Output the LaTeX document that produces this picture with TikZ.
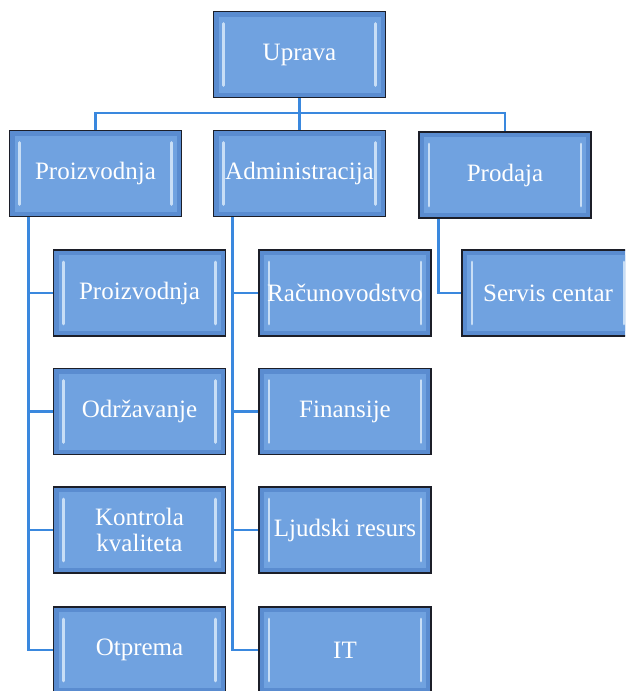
\documentclass[tikz,border=0pt]{standalone}
\usepackage{fontspec}
\setmainfont{Liberation Serif}
\definecolor{boxblue}{RGB}{112,162,224}
\definecolor{boxedge}{RGB}{90,140,208}
\definecolor{boxline}{RGB}{28,30,40}
\definecolor{connblue}{RGB}{58,136,222}
\definecolor{barlight}{RGB}{200,222,246}
\begin{document}
\begin{tikzpicture}[x=1pt,y=-1pt,
  orgbox/.style={draw=boxline, line width=1.6pt, fill=boxedge,
    minimum width=172pt, minimum height=86pt, inner sep=2pt,
    text=white, font=\fontsize{25}{26}\selectfont, align=center,
    path picture={
      \fill[boxblue] ([shift={(5pt,-5pt)}]path picture bounding box.north west)
        rectangle ([shift={(-5pt,5pt)}]path picture bounding box.south east);
      \draw[barlight, line width=2.8pt, line cap=round]
        ([shift={(10pt,-12pt)}]path picture bounding box.north west) --
        ([shift={(10pt,12pt)}]path picture bounding box.south west);
      \draw[barlight, line width=2.8pt, line cap=round]
        ([shift={(-10pt,-12pt)}]path picture bounding box.north east) --
        ([shift={(-10pt,12pt)}]path picture bounding box.south east);
    }},
  conn/.style={draw=connblue, line width=2.8pt}]
\useasboundingbox (0,0) rectangle (625,691);
\clip (0,0) rectangle (625,691);
\fill[white] (0,0) rectangle (625,691);

\node[orgbox] (up) at (299.5,54.5) {Uprava};
\node[orgbox] (pr) at (95.5,173.5) {Proizvodnja};
\node[orgbox] (ad) at (299.5,173.5) {Administracija};
\node[orgbox] (pd) at (505,175) {Prodaja};

\node[orgbox] (p1) at (139.5,293) {Proizvodnja};
\node[orgbox] (p2) at (139.5,411.5) {Održavanje};
\node[orgbox] (p3) at (139.5,530) {Kontrola\\kvaliteta};
\node[orgbox] (p4) at (139.5,650) {Otprema};

\node[orgbox] (a1) at (345,293) {Računovodstvo};
\node[orgbox] (a2) at (345,411.5) {Finansije};
\node[orgbox] (a3) at (345,530) {Ljudski resurs};
\node[orgbox] (a4) at (345,650) {IT};

\node[orgbox] (s1) at (548,293) {Servis centar};

\coordinate (hub) at (299.5,113);
\draw[conn] (up.south) -- (hub);
\draw[conn] (hub) -| (pr.north);
\draw[conn] (hub) -| (pd.north);
\draw[conn] (hub) -- (ad.north);

\foreach \c in {p1,p2,p3,p4}
  \draw[conn] ([xshift=20pt]pr.south west) |- (\c.west);
\foreach \c in {a1,a2,a3,a4}
  \draw[conn] ([xshift=20pt]ad.south west) |- (\c.west);
\draw[conn] ([xshift=20pt]pd.south west) |- (s1.west);
\end{tikzpicture}
\end{document}
